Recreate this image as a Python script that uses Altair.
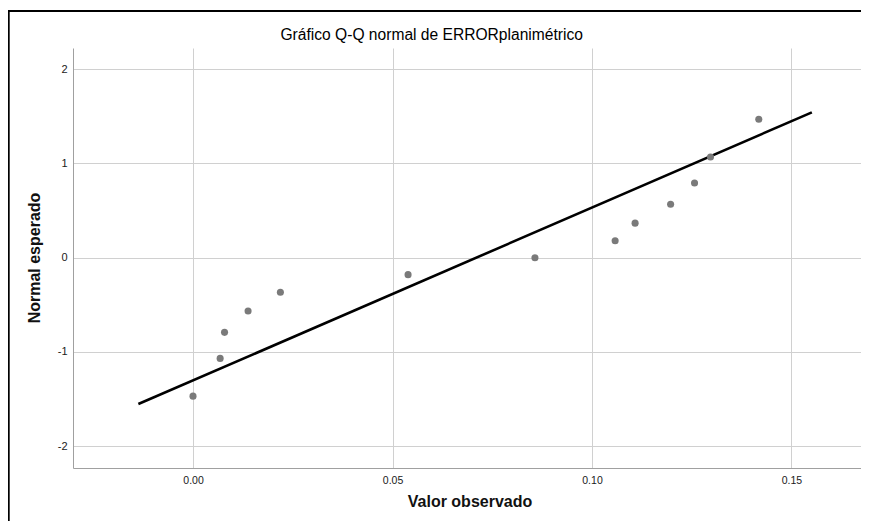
import altair as alt
import pandas as pd

# Observed values (x) and expected normal quantiles (y)
observed = [0.000, 0.0068, 0.0079, 0.0138, 0.0219, 0.0539, 0.0857,
            0.1058, 0.1108, 0.1197, 0.1257, 0.1297, 0.1418]
expected = [-1.468, -1.068, -0.792, -0.566, -0.366, -0.180, 0.0,
            0.180, 0.366, 0.566, 0.792, 1.068, 1.468]

# Reference line end points
line_x = [-0.0137, 0.1551]
line_y = [-1.552, 1.541]

x_ticks = [0.0, 0.05, 0.10, 0.15]
y_ticks = [-2, -1, 0, 1, 2]

title_text = "Gráfico Q-Q normal de ERRORplanimétrico"
x_title = "Valor observado"
y_title = "Normal esperado"

W, H = 788, 420
FONT = "Liberation Sans"

pts = pd.DataFrame({"obs": observed, "exp": expected})
ln = pd.DataFrame({"obs": line_x, "exp": line_y})

xscale = alt.Scale(domain=[-0.03008, 0.16742], nice=False, zero=False)
yscale = alt.Scale(domain=[-2.23, 2.223], nice=False, zero=False)

xaxis = alt.Axis(values=x_ticks, format=".2f", title=None, ticks=False,
                 labelPadding=7, grid=True, gridColor="#d0d0d0",
                 domainColor="#a0a0a0", labelFont=FONT, labelFontSize=10.5,
                 labelColor="#1a1a1a")
yaxis = alt.Axis(values=y_ticks, labelExpr="'' + datum.value", title=None,
                 ticks=False, labelPadding=6, grid=True, gridColor="#d0d0d0",
                 domainColor="#a0a0a0", labelFont=FONT, labelFontSize=11,
                 labelColor="#1a1a1a")

one = pd.DataFrame({"a": [1]})
border_top = alt.Chart(one).mark_rect(color="black", strokeWidth=0).encode(
    x=alt.value(-65.3), x2=alt.value(W), y=alt.value(-38), y2=alt.value(-36)
)
border_left = alt.Chart(one).mark_rect(color="black", strokeWidth=0).encode(
    x=alt.value(-65.3), x2=alt.value(-63.3), y=alt.value(-38), y2=alt.value(H + 53)
)

points = alt.Chart(pts).mark_point(
    filled=True, color="#7a7a7a", size=50, opacity=1
).encode(
    x=alt.X("obs:Q", scale=xscale, axis=xaxis),
    y=alt.Y("exp:Q", scale=yscale, axis=yaxis),
)

line = alt.Chart(ln).mark_line(color="black", strokeWidth=2.6).encode(
    x=alt.X("obs:Q", scale=xscale),
    y=alt.Y("exp:Q", scale=yscale),
)

title = alt.Chart(pd.DataFrame({"t": [title_text]})).mark_text(
    font=FONT, fontSize=15.6, color="#000000",
    align="center", baseline="middle"
).encode(x=alt.value(358.7), y=alt.value(-13), text="t:N")

xt = alt.Chart(pd.DataFrame({"t": [x_title]})).mark_text(
    font=FONT, fontSize=16, fontWeight="bold", color="#111111",
    align="center", baseline="middle"
).encode(x=alt.value(397), y=alt.value(H + 34), text="t:N")

yt = alt.Chart(pd.DataFrame({"t": [y_title]})).mark_text(
    font=FONT, fontSize=16, fontWeight="bold", color="#111111",
    align="center", baseline="middle", angle=270
).encode(x=alt.value(-38), y=alt.value(210), text="t:N")

chart = alt.layer(border_top, border_left, line, points, title, xt, yt).properties(
    width=W, height=H,
    autosize=alt.AutoSizeParams(type="none"),
    padding={"left": 65, "top": 40, "right": 0, "bottom": 53},
    background="white",
).configure_view(strokeWidth=0)

chart.save("out.html", embed_options={"renderer": "svg", "actions": False})
